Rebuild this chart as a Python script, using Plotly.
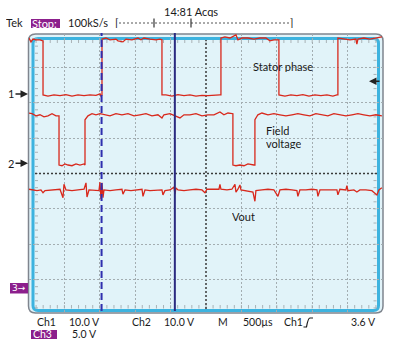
import plotly.graph_objects as go

# ---------------- data (time in µs, voltage in V) ----------------
t_stator = [0, 28, 56, 99, 155, 184, 198, 198, 268, 353, 438, 522, 607, 692, 777, 861, 946, 1003, 1017, 1031,
            1031, 1087, 1144, 1228, 1257, 1327, 1370, 1454, 1539, 1581, 1624, 1709, 1793, 1850, 1878,
            1878, 1934, 2019, 2104, 2189, 2273, 2358, 2443, 2527, 2612, 2697, 2711,
            2711, 2767, 2838, 2923, 2951, 3008, 3092, 3177, 3262, 3346, 3403, 3459, 3530,
            3530, 3615, 3699, 3784, 3869, 3954, 4038, 4123, 4208, 4292, 4349, 4363,
            4363, 4448, 4533, 4617, 4631, 4646, 4730, 4815, 4900, 4984]
v_stator = [15.8, 14.7, 15.5, 15.3, 15.3, 15.0, 15.0, -0.3, -0.6, -0.3, -0.5, -0.2, -0.6, -0.3, -0.5, -0.3, -0.4, 0.0, -0.6, -0.3,
            15.5, 15.8, 15.3, 15.5, 15.0, 14.7, 15.5, 15.3, 15.8, 15.3, 15.8, 15.5, 15.3, 15.5, 15.3,
            -0.3, -0.3, -0.6, -0.2, -0.5, -0.3, -0.6, -0.4, -0.5, -0.3, -0.3, -0.3,
            15.8, 16.1, 15.8, 16.7, 15.3, 15.8, 15.8, 15.5, 15.8, 15.8, 15.0, 15.3, 15.3,
            -0.3, -0.6, -0.3, -0.5, -0.2, -0.6, -0.3, -0.5, -0.3, -0.6, -0.3, -0.3,
            15.8, 15.5, 15.3, 15.5, 14.1, 15.5, 15.8, 15.5, 15.8, 16.1]

t_field = [0, 42, 99, 155, 212, 268, 325, 381, 424,
           424, 466, 508, 551, 607, 664, 720, 777, 791,
           791, 833, 890, 946, 1003, 1059, 1144, 1228, 1313, 1398, 1483, 1567, 1652, 1737, 1821, 1878, 1906,
           1991, 2076, 2132, 2189, 2273, 2358, 2443, 2527, 2612, 2697, 2753, 2810, 2866, 2880,
           2880, 2923, 2979, 3036, 3092, 3149, 3177, 3191,
           3191, 3233, 3290, 3375, 3459, 3544, 3629, 3714, 3798, 3883, 3968, 4052, 4137, 4222, 4306, 4391,
           4476, 4561, 4646, 4730, 4815, 4900, 4984]
v_field = [14.2, 14.0, 13.4, 13.7, 13.1, 13.4, 14.0, 13.4, 13.4,
           -0.5, -0.7, -0.2, -0.5, -0.7, -0.2, -0.5, -0.2, -0.5,
           12.3, 13.4, 14.0, 13.7, 14.0, 13.7, 13.4, 14.0, 13.7, 14.0, 13.4, 13.7, 14.0, 13.4, 13.7, 12.8, 13.7,
           14.0, 13.4, 12.8, 13.7, 13.7, 14.0, 13.4, 13.7, 13.7, 14.5, 13.7, 14.2, 14.0, 14.0,
           -0.5, -0.7, -0.5, -0.7, -0.2, -0.5, -0.5, -0.5,
           12.3, 13.7, 14.2, 13.7, 14.0, 13.7, 13.4, 13.7, 14.0, 13.7, 13.4, 14.0, 13.7, 13.4, 14.0, 13.7,
           13.4, 13.7, 14.0, 13.7, 13.4, 13.7, 13.4]

t_vout = [0, 56, 113, 169, 198, 226, 297, 367, 438, 480, 494, 522, 607, 692, 777, 805, 819, 847, 932, 988,
          1003, 1017, 1031, 1045, 1059, 1144, 1228, 1313, 1327, 1356, 1440, 1525, 1596, 1610, 1638, 1709,
          1793, 1878, 1892, 1920, 1991, 2047, 2062, 2076, 2104, 2189, 2273, 2358, 2443, 2485, 2513, 2598,
          2683, 2697, 2711, 2796, 2866, 2909, 2923, 2951, 2979, 2994, 3078, 3163, 3191, 3205, 3290, 3375,
          3459, 3516, 3544, 3629, 3714, 3784, 3798, 3826, 3911, 3996, 4067, 4081, 4109, 4194, 4278, 4349,
          4363, 4391, 4476, 4490, 4505, 4589, 4631, 4674, 4758, 4843, 4914, 4942, 4984]
v_vout = [14.0, 13.9, 13.8, 13.9, 13.5, 13.8, 13.9, 13.9, 14.0, 12.8, 14.7, 13.9, 13.8, 13.9, 14.0, 14.9, 12.9, 13.9, 13.9, 13.8,
          15.0, 12.6, 14.9, 12.8, 13.9, 13.8, 13.9, 14.0, 13.3, 13.9, 13.8, 13.9, 14.0, 13.0, 13.9, 13.8,
          13.9, 13.9, 13.2, 13.8, 13.9, 14.3, 13.3, 14.2, 13.9, 13.8, 13.9, 14.0, 13.9, 13.5, 14.0, 14.0,
          14.0, 14.7, 14.0, 13.9, 14.0, 14.7, 13.6, 14.0, 14.6, 13.9, 13.8, 13.6, 12.3, 13.8, 13.9, 14.0,
          13.9, 13.0, 13.9, 14.0, 13.9, 13.8, 13.0, 13.9, 13.9, 14.0, 13.9, 13.0, 13.9, 13.9, 14.0, 13.9,
          13.2, 14.0, 13.9, 14.5, 13.8, 13.9, 13.6, 13.9, 13.9, 13.8, 13.2, 13.9, 14.2]

ch_scale = [10.0, 10.0, 5.0]        # V/div for Ch1, Ch2, Ch3
ch_label = ["10.0 V", "10.0 V", "5.0 V"]
time_per_div = 500                  # µs/div
cursor_t = [1025, 2060]             # µs
trigger_level = 3.6                 # V on Ch1
trace_names = ["Stator phase", "Field voltage", "Vout"]

# ---------------- layout geometry ----------------
W, H = 400, 349
L, R, T, B = 29, 17, 34, 36
PW, PH = W - L - R, H - T - B
DIV = 35.375
ch_offset = [2.25, 0.29, -3.245]    # ground marker position in divisions
YR = PH / 2 / DIV


def px(x):
    return (x - L) / PW


def py(y):
    return (H - B - y) / PH


RED = "#d8281c"
PURPLE = "#8c1f8c"
FONT = "Lato"
TXT = "#1a1a1a"

fig = go.Figure()
series = [(t_stator, v_stator), (t_field, v_field), (t_vout, v_vout)]
for i, (ts, vs) in enumerate(series):
    fig.add_trace(go.Scatter(x=ts, y=[ch_offset[i] + v / ch_scale[i] for v in vs], mode="lines",
                             name=trace_names[i], line=dict(color=RED, width=1.3),
                             hoverinfo="skip", showlegend=False))

xmax = 10 * time_per_div
shapes = []


def rrect(x0, y0, x1, y1, r):
    return (f"M {px(x0 + r)},{py(y0)} L {px(x1 - r)},{py(y0)} Q {px(x1)},{py(y0)} {px(x1)},{py(y0 + r)} "
            f"L {px(x1)},{py(y1 - r)} Q {px(x1)},{py(y1)} {px(x1 - r)},{py(y1)} "
            f"L {px(x0 + r)},{py(y1)} Q {px(x0)},{py(y1)} {px(x0)},{py(y1 - r)} "
            f"L {px(x0)},{py(y0 + r)} Q {px(x0)},{py(y0)} {px(x0 + r)},{py(y0)} Z")


# screen background + frame
shapes.append(dict(type="path", path=rrect(28.5, 34, 383, 313, 7), xref="paper", yref="paper",
                   fillcolor="#e1f3f9", line=dict(color="#7f858e", width=1.5), layer="below"))
shapes.append(dict(type="path", path=rrect(33, 38.5, 378.5, 310.5, 5), xref="paper", yref="paper",
                   line=dict(color="#3db3df", width=3), layer="below"))

# minor ticks on the frame
for k in range(1, 50):
    t = k * time_per_div / 5
    shapes.append(dict(type="line", xref="x", yref="paper", x0=t, x1=t, y0=py(40), y1=py(43),
                       line=dict(color="#a9b2b6", width=1), layer="below"))
    shapes.append(dict(type="line", xref="x", yref="paper", x0=t, x1=t, y0=py(305), y1=py(308.5),
                       line=dict(color="#a9b2b6", width=1), layer="below"))
for k in range(-19, 20):
    d = k / 5
    shapes.append(dict(type="line", xref="paper", yref="y", x0=px(35), x1=px(38), y0=d, y1=d,
                       line=dict(color="#a9b2b6", width=1), layer="below"))
    shapes.append(dict(type="line", xref="paper", yref="y", x0=px(373.5), x1=px(376.5), y0=d, y1=d,
                       line=dict(color="#a9b2b6", width=1), layer="below"))

# centre cross-hair
shapes.append(dict(type="line", xref="x", yref="paper", x0=xmax / 2, x1=xmax / 2, y0=py(309), y1=py(40),
                   line=dict(color="#3a3a3a", width=1.5, dash="2px,2px"), layer="below"))
shapes.append(dict(type="line", xref="paper", yref="y", x0=px(35), x1=px(377), y0=0, y1=0,
                   line=dict(color="#3a3a3a", width=1.5, dash="2px,2px"), layer="below"))

# cursors
shapes.append(dict(type="line", xref="x", yref="paper", x0=cursor_t[0], x1=cursor_t[0], y0=py(311), y1=py(33),
                   line=dict(color="#2f2fae", width=2, dash="7px,4px"), layer="above"))
shapes.append(dict(type="line", xref="x", yref="paper", x0=cursor_t[1], x1=cursor_t[1], y0=py(311), y1=py(33),
                   line=dict(color="#2b2a80", width=2), layer="above"))

# record-length bar at the top
shapes.append(dict(type="line", xref="paper", yref="paper", x0=px(119), x1=px(289), y0=py(23), y1=py(23),
                   line=dict(color="#555", width=1, dash="2px,2px"), layer="above"))
for xx in (154, 191):
    shapes.append(dict(type="line", xref="paper", yref="paper", x0=px(xx), x1=px(xx), y0=py(18.5), y1=py(27.5),
                       line=dict(color="#333", width=1.2), layer="above"))

# purple boxes
for (x0, y0, x1, y1) in [(31, 19, 60, 28), (31, 330, 57, 339), (10, 283, 28, 293.5)]:
    shapes.append(dict(type="rect", xref="paper", yref="paper", x0=px(x0), x1=px(x1), y0=py(y0), y1=py(y1),
                       fillcolor=PURPLE, line=dict(width=0), layer="above"))

# trigger edge symbol
shapes.append(dict(type="path", xref="paper", yref="paper",
                   path=f"M {px(303.5)},{py(327)} L {px(306.5)},{py(327)} Q {px(308)},{py(318)} {px(310)},{py(318)} L {px(313)},{py(318)}",
                   line=dict(color=TXT, width=1.2), layer="above"))

ann = []


def label(x, y, text, size=11, color=TXT, anchor="left"):
    ann.append(dict(x=px(x), y=py(y), xref="paper", yref="paper", text=text, showarrow=False,
                    xanchor=anchor, yanchor="middle", height=size, borderpad=0,
                    font=dict(family=FONT, size=size, color=color)))


label(5, 23, "Tek")
label(31, 23.5, "Stop:", color="white")
label(67, 23, "100kS/s")
label(114, 22, "[")
label(289, 22, "]")
label(191, 12, "14:81 Acqs", anchor="center")

label(36, 323, "Ch1", size=10.5)
label(68, 323, ch_label[0], size=10.5)
label(131, 323, "Ch2", size=10.5)
label(163, 323, ch_label[1], size=10.5)
label(217, 323, "M", size=10.5)
label(242, 323, f"{time_per_div}µs", size=10.5)
label(283, 323, "Ch1", size=10.5)
label(377, 323, f"{trigger_level} V", size=10.5, anchor="right")
label(31.5, 334.5, "Ch3", size=10.5, color="white")
label(71, 334.5, ch_label[2], size=10.5)

label(252, 66, "Stator phase")
label(265, 130, "Field")
label(265, 143, "voltage")
label(231, 216.5, "Vout")

# channel ground markers
for i, name in enumerate(["1", "2"]):
    ann.append(dict(x=px(28), y=ch_offset[i], xref="paper", yref="y", text=name, showarrow=True,
                    ax=-17, ay=0, arrowhead=2, arrowsize=1, arrowwidth=1.5, arrowcolor="#222",
                    font=dict(family=FONT, size=11, color=TXT)))
ann.append(dict(x=px(19), y=ch_offset[2], xref="paper", yref="y", text="3→", showarrow=False,
                xanchor="center", yanchor="middle", font=dict(family="DejaVu Sans", size=9, color="white")))
# trigger level marker
ann.append(dict(x=px(369), y=ch_offset[0] + trigger_level / ch_scale[0], xref="paper", yref="y", text="",
                showarrow=True, ax=12, ay=0, arrowhead=2, arrowsize=1, arrowwidth=1.5, arrowcolor="#222"))

fig.update_layout(
    width=W, height=H, margin=dict(l=L, r=R, t=T, b=B, autoexpand=False),
    paper_bgcolor="white", plot_bgcolor="rgba(0,0,0,0)",
    xaxis=dict(range=[0, xmax], showticklabels=False, ticks="", zeroline=False, showline=False,
               tickmode="array", tickvals=[k * time_per_div for k in range(1, 10) if k != 5],
               showgrid=True, gridcolor="#a3adb1", gridwidth=1, griddash="2px,2px", fixedrange=True),
    yaxis=dict(range=[-YR, YR], showticklabels=False, ticks="", zeroline=False, showline=False,
               tickmode="array", tickvals=[-3, -2, -1, 1, 2, 3],
               showgrid=True, gridcolor="#a3adb1", gridwidth=1, griddash="2px,2px", fixedrange=True),
    shapes=shapes, annotations=ann,
)

fig.write_html("out.html")
